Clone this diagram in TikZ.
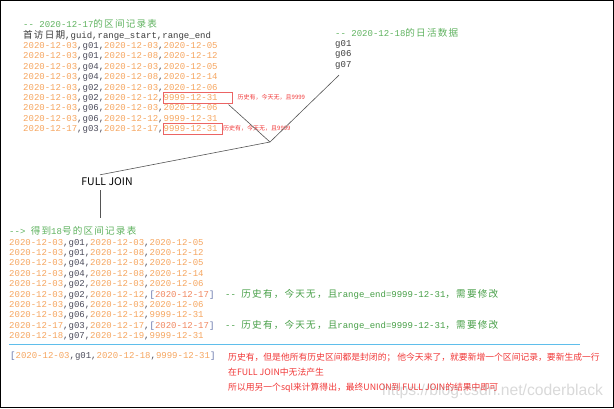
\documentclass[tikz,border=0pt]{standalone}
\usepackage{fontspec}
\setmonofont{Liberation Mono}
\newfontfamily\cjkm{Noto Sans CJK SC}[LetterSpace=12.5]
\newfontfamily\cjks{Noto Sans CJK SC}
\newfontfamily\wmfont{Liberation Sans}
\definecolor{org}{RGB}{245,165,95}
\definecolor{org2}{RGB}{240,135,95}
\definecolor{dk}{RGB}{75,75,90}
\definecolor{hdr}{RGB}{60,60,60}
\definecolor{brk}{RGB}{100,115,170}
\definecolor{gtitle}{RGB}{95,178,95}
\definecolor{gcom}{RGB}{70,158,70}
\definecolor{boxred}{RGB}{235,100,100}
\definecolor{notered}{RGB}{240,55,55}
\definecolor{linegray}{RGB}{85,85,85}
\definecolor{sepblue}{RGB}{95,190,235}
\newcommand\Or[1]{\textcolor{org}{#1}}
\newcommand\Dk[1]{\textcolor{dk}{#1}}
\newcommand\Cj[1]{{\cjkm\fontsize{9.6}{10}\selectfont #1}}
\newcommand\rw[4]{\Or{#1}\Dk{,#2,}\Or{#3}\Dk{,}#4}
\newcommand\Br[1]{\textcolor{brk}{[}\textcolor{org2}{#1}\textcolor{brk}{]}}
\begin{document}
\begin{tikzpicture}[x=1pt,y=-1pt,
  mono/.style={anchor=base west,inner sep=0pt,font=\ttfamily\fontsize{9}{10}\selectfont},
  conn/.style={draw=linegray,line width=0.6pt},
  redbox/.style={draw=boxred,line width=0.6pt,inner sep=0pt,anchor=north west},
  note/.style={anchor=west,inner sep=0pt,text=notered,font=\cjks\fontsize{6}{7}\selectfont},
  bignote/.style={anchor=base west,inner sep=0pt,text=notered,font=\cjks\fontsize{8.8}{10}\selectfont}]
\useasboundingbox (0,0) rectangle (614,408);
\draw[line width=1.4pt] (0.7,0.7) rectangle (613.2,407.2);

% ---- upper-left block
\node[mono,text=gtitle] (ut) at (23,27) {-- 2020-12-17\Cj{的区间记录表}};
\node[mono,text=hdr] (uh) at (23,38) {\Cj{首访日期},guid,range\_start,range\_end};
\node[mono] (u1) at (23,48.5) {\rw{2020-12-03}{g01}{2020-12-03}{\Or{2020-12-05}}};
\node[mono] (u2) at (23,58.9) {\rw{2020-12-03}{g01}{2020-12-08}{\Or{2020-12-12}}};
\node[mono] (u3) at (23,69.3) {\rw{2020-12-03}{g04}{2020-12-03}{\Or{2020-12-05}}};
\node[mono] (u4) at (23,79.7) {\rw{2020-12-03}{g04}{2020-12-08}{\Or{2020-12-14}}};
\node[mono] (u5) at (23,90.1) {\rw{2020-12-03}{g02}{2020-12-03}{\Or{2020-12-06}}};
\node[mono] (u6) at (23,100.5) {\rw{2020-12-03}{g02}{2020-12-12}{\Or{9999-12-31}}};
\node[mono] (u7) at (23,110.9) {\rw{2020-12-03}{g06}{2020-12-03}{\Or{2020-12-06}}};
\node[mono] (u8) at (23,121.3) {\rw{2020-12-03}{g06}{2020-12-12}{\Or{9999-12-31}}};
\node[mono] (u9) at (23,131.7) {\rw{2020-12-17}{g03}{2020-12-17}{\Or{9999-12-31}}};

\node[redbox,minimum width=69pt,minimum height=10.5pt] (box1) at (163,92) {};
\node[redbox,minimum width=59pt,minimum height=10.5pt] (box2) at (163,123) {};
\node[note] (n1) at (237.5,97.5) {历史有，今天无，且9999};
\node[note] (n2) at (223,128.5) {历史有，今天无，且9999};

% ---- upper-right block
\node[mono,text=gtitle] (dt) at (335,36) {-- 2020-12-18\Cj{的日活数据}};
\node[mono,text=hdr] (d1) at (335,46.3) {g01};
\node[mono,text=hdr] (d2) at (335,56.7) {g06};
\node[mono,text=hdr] (d3) at (335,67.1) {g07};

% ---- join
\coordinate (J) at (270,142);
\node[inner sep=0pt,font=\cjks\fontsize{10.5}{11}\selectfont,text=black] (fj) at (107,182) {FULL JOIN};
\coordinate (fjend) at (100,218);
\draw[conn] ([shift={(-4,1.5)}]box1.south east) -- (J);
\draw[conn] ([shift={(4,6)}]d3.south west) -- (J);
\draw[conn] (J) -- ([shift={(-7,-3)}]fj.north);
\draw[conn] ([shift={(-7,4)}]fj.south) -- (fjend);

% ---- lower block
\node[mono,text=gtitle] (lt) at (9,234) {--> \Cj{得到}18\Cj{号的区间记录表}};
\node[mono] (l1) at (9,245) {\rw{2020-12-03}{g01}{2020-12-03}{\Or{2020-12-05}}};
\node[mono] (l2) at (9,255.4) {\rw{2020-12-03}{g01}{2020-12-08}{\Or{2020-12-12}}};
\node[mono] (l3) at (9,265.8) {\rw{2020-12-03}{g04}{2020-12-03}{\Or{2020-12-05}}};
\node[mono] (l4) at (9,276.2) {\rw{2020-12-03}{g04}{2020-12-08}{\Or{2020-12-14}}};
\node[mono] (l5) at (9,286.6) {\rw{2020-12-03}{g02}{2020-12-03}{\Or{2020-12-06}}};
\node[mono] (l6) at (9,297) {\rw{2020-12-03}{g02}{2020-12-12}{\Br{2020-12-17}}\textcolor{gcom}{\ \ -- \Cj{历史有，今天无，且}range\_end=9999-12-31\Cj{，需要修改}}};
\node[mono] (l7) at (9,307.4) {\rw{2020-12-03}{g06}{2020-12-03}{\Or{2020-12-06}}};
\node[mono] (l8) at (9,317.8) {\rw{2020-12-03}{g06}{2020-12-12}{\Or{9999-12-31}}};
\node[mono] (l9) at (9,328.2) {\rw{2020-12-17}{g03}{2020-12-17}{\Br{2020-12-17}}\textcolor{gcom}{\ \ -- \Cj{历史有，今天无，且}range\_end=9999-12-31\Cj{，需要修改}}};
\node[mono] (l10) at (9,338.6) {\rw{2020-12-18}{g07}{2020-12-19}{\Or{9999-12-31}}};

\draw[draw=sepblue,line width=0.8pt] (9,344.5) -- (580,344.5);

% ---- bottom
\node[mono] (b1) at (10,358.3) {\textcolor{brk}{[}\rw{2020-12-03}{g01}{2020-12-18}{\Or{9999-12-31}}\textcolor{brk}{]}};
\node[bignote] (r1) at (228,360) {历史有，但是他所有历史区间都是封闭的； 他今天来了，就要新增一个区间记录，要新生成一行};
\node[bignote] (r2) at (228,375.3) {在FULL JOIN中无法产生};
\node[bignote] (r3) at (228,390) {所以用另一个sql来计算得出，最终UNION到 FULL JOIN的结果中即可};

\node[anchor=west,inner sep=0pt,font=\wmfont\fontsize{15.7}{16}\selectfont,text=gray,text opacity=0.3] (wm) at (382,391) {https://blog.csdn.net/coderblack};
\end{tikzpicture}
\end{document}
